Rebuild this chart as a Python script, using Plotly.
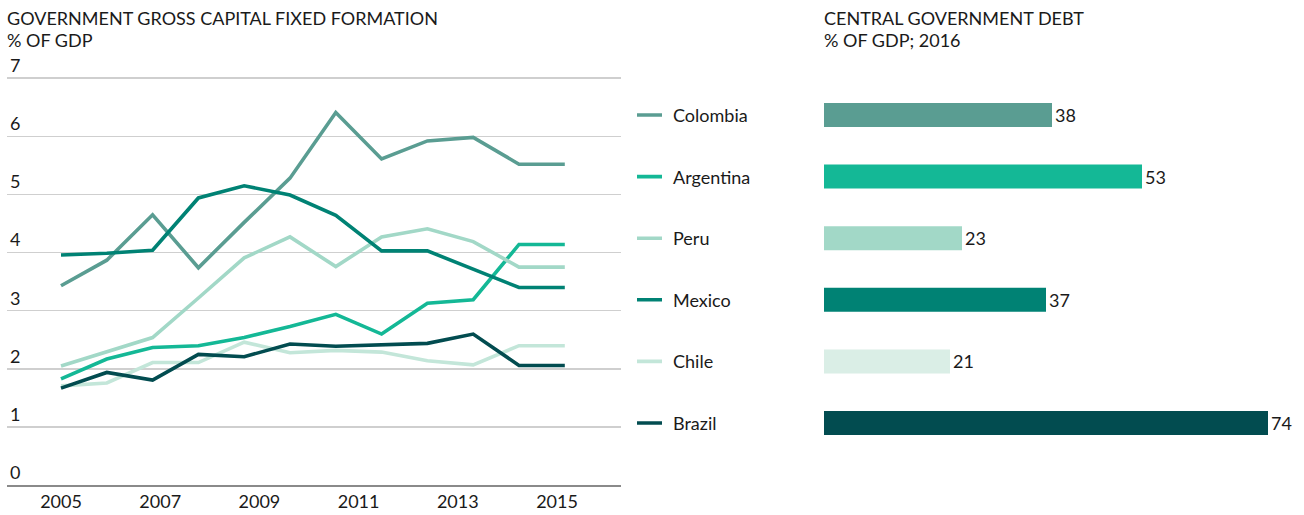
import plotly.graph_objects as go

# ---------------- data ----------------
countries = ["Colombia", "Argentina", "Peru", "Mexico", "Chile", "Brazil"]
line_colors = ["#5a9d92", "#14b896", "#a2d8c7", "#008274", "#c3e6d9", "#024c50"]
bar_colors = ["#5a9d92", "#14b896", "#a2d8c7", "#008274", "#daeee6", "#024c50"]

obs = list(range(12))  # observation index along the line chart
tick_years = [2005, 2007, 2009, 2011, 2013, 2015]
tick_labels = ["2005", "2007", "2009", "2011", "2013", "2015"]
y_ticks = [0, 1, 2, 3, 4, 5, 6, 7]

colombia = [3.43, 3.87, 4.65, 3.74, 4.52, 5.28, 6.41, 5.61, 5.92, 5.98, 5.52, 5.52]
argentina = [1.83, 2.17, 2.37, 2.40, 2.54, 2.73, 2.94, 2.60, 3.13, 3.19, 4.14, 4.14]
peru = [2.05, 2.30, 2.54, 3.22, 3.91, 4.27, 3.76, 4.27, 4.41, 4.19, 3.75, 3.75]
mexico = [3.96, 3.99, 4.04, 4.94, 5.15, 4.99, 4.64, 4.03, 4.03, 3.71, 3.40, 3.40]
chile = [1.71, 1.76, 2.11, 2.11, 2.46, 2.28, 2.32, 2.29, 2.14, 2.07, 2.40, 2.40]
brazil = [1.67, 1.94, 1.81, 2.25, 2.21, 2.43, 2.39, 2.42, 2.44, 2.60, 2.06, 2.06]
series = [colombia, argentina, peru, mexico, chile, brazil]

debt_2016 = [38, 53, 23, 37, 21, 74]

left_title = ["GOVERNMENT GROSS CAPITAL FIXED FORMATION", "% OF GDP"]
right_title = ["CENTRAL GOVERNMENT DEBT", "% OF GDP; 2016"]

# ---------------- layout constants (pixels) ----------------
W, H = 1304, 515
FONT = "Lato"
TXT = "#1a1a1a"

def px_x(p):
    return p / W

def px_y(p):
    return 1 - p / H

line_left, line_right = 7, 621
line_bottom = 485.3
px_per_unit_y = 58.17
y_top_val = 7.45
line_top = line_bottom - y_top_val * px_per_unit_y
first_pt_px, pt_step = 61, 45.8
year_step = 49.6

bar_left, bar_right = 824, 1298
bar_px_per_unit = 6.0
row_top, row_bottom = 84.2, 453.8

fig = go.Figure()

for name, vals, col in zip(countries, series, line_colors):
    fig.add_trace(go.Scatter(
        x=obs, y=vals, mode="lines", name=name,
        line=dict(color=col, width=3.6), xaxis="x", yaxis="y",
        showlegend=False, hoverinfo="skip",
    ))

# invisible trace for the year-label axis
fig.add_trace(go.Scatter(x=tick_years, y=[None] * len(tick_years), xaxis="x2", yaxis="y",
                         mode="markers", showlegend=False, hoverinfo="skip"))

# bars
fig.add_trace(go.Bar(
    x=debt_2016, y=countries, orientation="h", xaxis="x4", yaxis="y2",
    marker=dict(color=bar_colors, line=dict(width=0)),
    width=0.39, text=[str(v) for v in debt_2016], textposition="outside",
    textfont=dict(family=FONT, size=18, color=TXT), cliponaxis=False,
    showlegend=False, hoverinfo="skip",
))

# legend line keys
for name, col in zip(countries, line_colors):
    fig.add_trace(go.Scatter(
        x=[0, 1], y=[name, name], mode="lines", xaxis="x3", yaxis="y2",
        line=dict(color=col, width=3.6), showlegend=False, hoverinfo="skip",
    ))

annotations = []
for name in countries:
    annotations.append(dict(
        text=name, x=px_x(671), xref="paper", y=name, yref="y2",
        xanchor="left", yanchor="middle", showarrow=False,
        font=dict(family=FONT, size=18, color=TXT),
    ))

for i, t in enumerate(left_title):
    annotations.append(dict(text=t, x=px_x(5), xref="paper", y=px_y(18 + 21.5 * i), yref="paper",
                            xanchor="left", yanchor="middle", showarrow=False,
                            font=dict(family=FONT, size=18, color=TXT)))
for i, t in enumerate(right_title):
    annotations.append(dict(text=t, x=px_x(822), xref="paper", y=px_y(18 + 21.5 * i), yref="paper",
                            xanchor="left", yanchor="middle", showarrow=False,
                            font=dict(family=FONT, size=18, color=TXT)))

line_range = [(line_left - first_pt_px) / pt_step, (line_right - first_pt_px) / pt_step]
year_range = [tick_years[0] + (line_left - first_pt_px) / year_step,
              tick_years[0] + (line_right - first_pt_px) / year_step]

fig.update_layout(
    width=W, height=H, margin=dict(l=0, r=0, t=0, b=0),
    paper_bgcolor="white", plot_bgcolor="white",
    font=dict(family=FONT, size=18, color=TXT),
    annotations=annotations,
    xaxis=dict(domain=[px_x(line_left), px_x(line_right)], range=line_range,
               showticklabels=False, showgrid=False, zeroline=False, fixedrange=True,
               anchor="y"),
    xaxis2=dict(domain=[px_x(line_left), px_x(line_right)], range=year_range, overlaying="x",
                tickvals=tick_years, ticktext=tick_labels, showgrid=False, zeroline=False,
                ticks="", tickfont=dict(family=FONT, size=18, color=TXT), anchor="y",
                showline=True, linecolor="#8a8a8a", linewidth=1.3, side="bottom"),
    yaxis=dict(domain=[px_y(line_bottom), px_y(line_top)], range=[0, y_top_val], tickvals=y_ticks,
               showgrid=True, gridcolor="#cfcfcf", gridwidth=1.3, zeroline=False,
               ticklabelposition="inside top", tickfont=dict(family=FONT, size=18, color=TXT),
               ticks="", anchor="x"),
    xaxis3=dict(domain=[px_x(637), px_x(662)], range=[0, 1], visible=False, anchor="y2"),
    xaxis4=dict(domain=[px_x(bar_left), px_x(bar_right)],
                range=[0, (bar_right - bar_left) / bar_px_per_unit], visible=False, anchor="y2"),
    yaxis2=dict(domain=[px_y(row_bottom), px_y(row_top)], type="category",
                categoryorder="array", categoryarray=countries,
                range=[len(countries) - 0.5, -0.5], visible=False, anchor="x4"),
)

fig.write_html("out.html",
               config={"displayModeBar": False, "staticPlot": True},
               post_script="document.body.style.margin='0';document.body.style.padding='0';")
